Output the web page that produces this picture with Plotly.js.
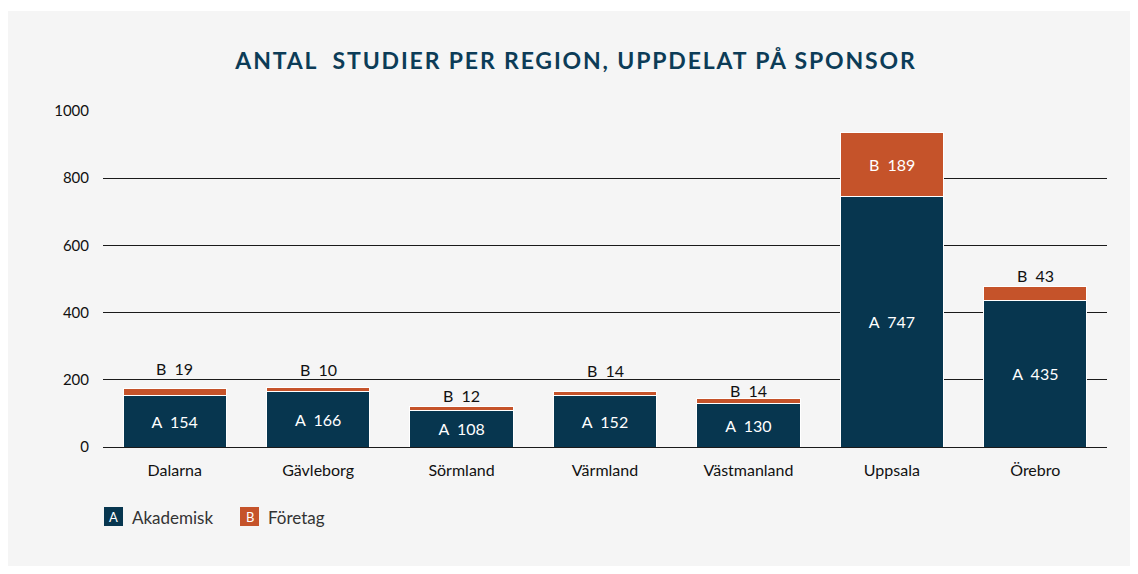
<!DOCTYPE html>
<html>
<head>
<meta charset="utf-8">
<script src="https://cdn.plot.ly/plotly-3.0.1.min.js"></script>
<style>html,body{margin:0;padding:0;background:#fff;}#chart{width:1138px;height:574px;}
.gtitle{letter-spacing:1.85px;}</style>
</head>
<body>
<div id="chart"></div>
<script>
// ---- data ----
const regions = ["Dalarna", "Gävleborg", "Sörmland", "Värmland", "Västmanland", "Uppsala", "Örebro"];
const akademisk = [154, 166, 108, 152, 130, 747, 435];
const foretag = [19, 10, 12, 14, 14, 189, 43];
const seriesNames = ["Akademisk", "Företag"];
const seriesLetters = ["A", "B"];
const yTicks = [0, 200, 400, 600, 800, 1000];

// ---- style ----
const NAVY = "#07364f";
const ORANGE = "#c5532a";
const BG = "#f5f5f5";
const FONT = "Lato, 'Open Sans', sans-serif";
const W = 1138, H = 574;
const M = {l: 103, r: 31, t: 111, b: 127};
const PW = W - M.l - M.r, PH = H - M.t - M.b;
const px = x => (x - M.l) / PW;
const py = y => (H - M.b - y) / PH;
// label placement (pixels above bar top); null = inside bar
const bLabelShift = [20, 18, 11, 21, 8, null, 11];

const traces = [
  {
    type: "bar", name: seriesNames[0], x: regions, y: akademisk,
    marker: {color: NAVY, line: {color: "#ffffff", width: 1}},
    text: akademisk.map(v => seriesLetters[0] + "\u00a0\u00a0" + v),
    textposition: "inside", insidetextanchor: "middle",
    insidetextfont: {family: FONT, size: 16, color: "#ffffff"},
    constraintext: "none", hoverinfo: "none"
  },
  {
    type: "bar", name: seriesNames[1], x: regions, y: foretag,
    marker: {color: ORANGE, line: {color: "#ffffff", width: 1}},
    textposition: "none", hoverinfo: "none"
  }
];

const annotations = [];
regions.forEach((r, i) => {
  const txt = seriesLetters[1] + "\u00a0\u00a0" + foretag[i];
  if (bLabelShift[i] === null) {
    annotations.push({x: r, y: akademisk[i] + foretag[i] / 2, xref: "x", yref: "y",
      text: txt, showarrow: false, font: {family: FONT, size: 16, color: "#ffffff"},
      xanchor: "center", yanchor: "middle"});
  } else {
    annotations.push({x: r, y: akademisk[i] + foretag[i], xref: "x", yref: "y",
      text: txt, showarrow: false, font: {family: FONT, size: 16, color: "#111111"},
      xanchor: "center", yanchor: "middle", yshift: bLabelShift[i]});
  }
});

// custom legend
const legendItems = [
  {x0: 104, color: NAVY, name: seriesNames[0], letter: seriesLetters[0]},
  {x0: 240, color: ORANGE, name: seriesNames[1], letter: seriesLetters[1]}
];
const shapes = [
  {type: "rect", xref: "paper", yref: "paper", x0: px(8), x1: px(1130), y0: py(566), y1: py(11),
   fillcolor: BG, line: {width: 0}, layer: "below"}
];
legendItems.forEach(it => {
  shapes.push({type: "rect", xref: "paper", yref: "paper", x0: px(it.x0), x1: px(it.x0 + 19),
    y0: py(526), y1: py(507), fillcolor: it.color, line: {width: 0}});
  annotations.push({xref: "paper", yref: "paper", x: px(it.x0 + 9.5), y: py(517), text: it.letter,
    showarrow: false, font: {family: FONT, size: 13, color: "#ffffff"}, xanchor: "center", yanchor: "middle"});
  annotations.push({xref: "paper", yref: "paper", x: px(it.x0 + 26), y: py(517), text: it.name,
    showarrow: false, font: {family: FONT, size: 17, color: "#333333"}, xanchor: "left", yanchor: "middle"});
});

const layout = {
  width: W, height: H,
  margin: M,
  paper_bgcolor: "#ffffff",
  plot_bgcolor: "rgba(0,0,0,0)",
  barmode: "stack",
  bargap: 0.28,
  showlegend: false,
  title: {
    text: "<b>ANTAL\u00a0 STUDIER PER REGION, UPPDELAT PÅ SPONSOR</b>",
    font: {family: FONT, size: 23, color: "#0c3c57"},
    x: 0.5 + 7 / W, xanchor: "center", xref: "container",
    y: 1 - 61 / H, yanchor: "middle", yref: "container"
  },
  font: {family: FONT, size: 15, color: "#111111"},
  xaxis: {
    type: "category", showgrid: false, zeroline: false, showline: false,
    ticks: "outside", ticklen: 9, tickcolor: "rgba(0,0,0,0)",
    tickfont: {family: FONT, size: 16, color: "#111111"}
  },
  yaxis: {
    range: [0, 1000], tickvals: yTicks, ticktext: yTicks.map(String),
    showgrid: true, gridcolor: "#1a1a1a", gridwidth: 1,
    zeroline: true, zerolinecolor: "#1a1a1a", zerolinewidth: 1,
    showline: false, ticks: "outside", ticklen: 10, tickcolor: "rgba(0,0,0,0)",
    tickfont: {family: FONT, size: 15, color: "#111111"}
  },
  shapes: shapes,
  annotations: annotations
};

Plotly.newPlot("chart", traces, layout, {displayModeBar: false, staticPlot: true});
</script>
</body>
</html>
